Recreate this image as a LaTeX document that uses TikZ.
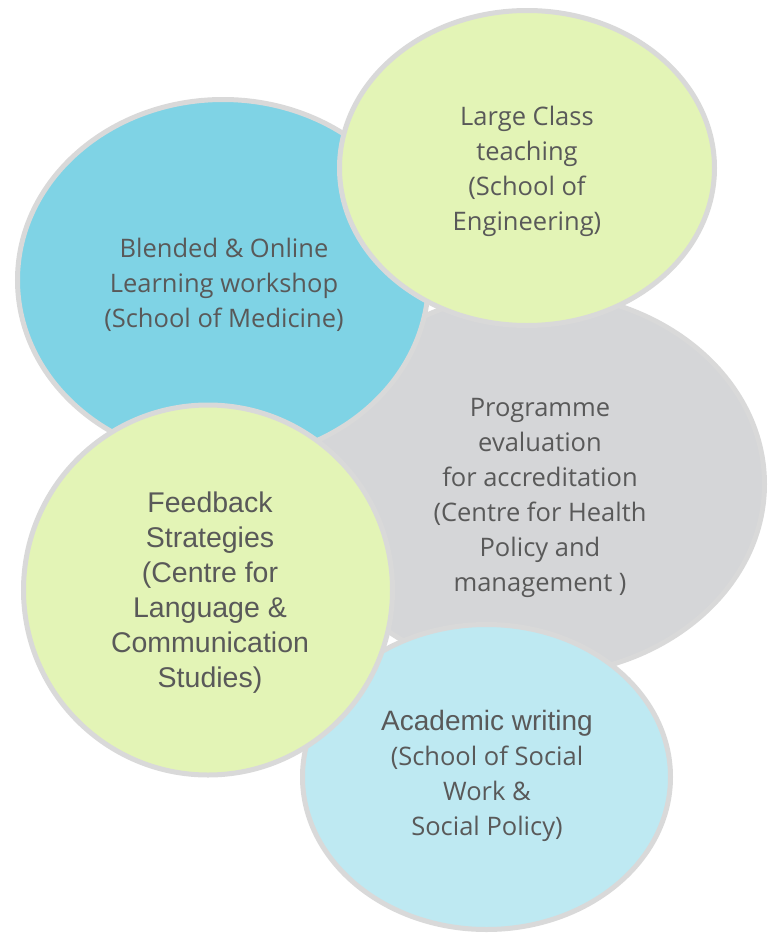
\documentclass[tikz,border=0pt]{standalone}
\usepackage{fontspec}
\setmainfont{Open Sans}
\newfontfamily\arialfont{Liberation Sans}
\usetikzlibrary{shapes.geometric}

\definecolor{bubbleblue}{RGB}{127,211,229}
\definecolor{bubblelime}{RGB}{227,244,182}
\definecolor{bubblegray}{RGB}{213,214,216}
\definecolor{bubblesky}{RGB}{190,233,242}
\definecolor{rimgray}{RGB}{217,217,217}
\definecolor{textgray}{RGB}{89,89,89}

\begin{document}
\begin{tikzpicture}[x=1pt, y=-1pt,
  bubble/.style={ellipse, draw=rimgray, line width=5pt, inner sep=0pt},
  bubbletext/.style={align=center, text=textgray, font=\fontsize{25.5}{35}\selectfont},
  arialtext/.style={align=center, text=textgray, font=\arialfont\fontsize{28.5}{35}\selectfont}
]
  \useasboundingbox (0,0) rectangle (774,935);

  % bubbles, back to front
  \node[bubble, fill=bubblegray, minimum width=459pt, minimum height=383pt] (programme) at (535,484) {};
  \node[bubble, fill=bubbleblue, minimum width=411pt, minimum height=361pt] (blended) at (223,280) {};
  \node[bubble, fill=bubblelime, minimum width=375pt, minimum height=315pt] (largeclass) at (527,168) {};
  \node[bubble, fill=bubblesky, minimum width=368pt, minimum height=305pt] (academic) at (486.5,777) {};
  \node[bubble, fill=bubblelime, minimum width=369pt, minimum height=370pt] (feedback) at (208,590) {};

  % texts
  \node[bubbletext] (blendedtext) at (224,285) {Blended \& Online\\Learning workshop\\(School of Medicine)};
  \node[bubbletext] (largeclasstext) at (527,171) {Large Class\\teaching\\(School of\\Engineering)};
  \node[bubbletext] (programmetext) at (540,498) {Programme\\evaluation\\for accreditation\\(Centre for Health\\Policy and\\management )};
  \node[arialtext] (feedbacktext) at (210,593) {Feedback\\Strategies\\(Centre for\\Language \&\\Communication\\Studies)};
  \node[bubbletext] (academictext) at (487,776) {{\arialfont\fontsize{28}{35}\selectfont Academic writing}\\(School of Social\\Work \&\\Social Policy)};
\end{tikzpicture}
\end{document}
